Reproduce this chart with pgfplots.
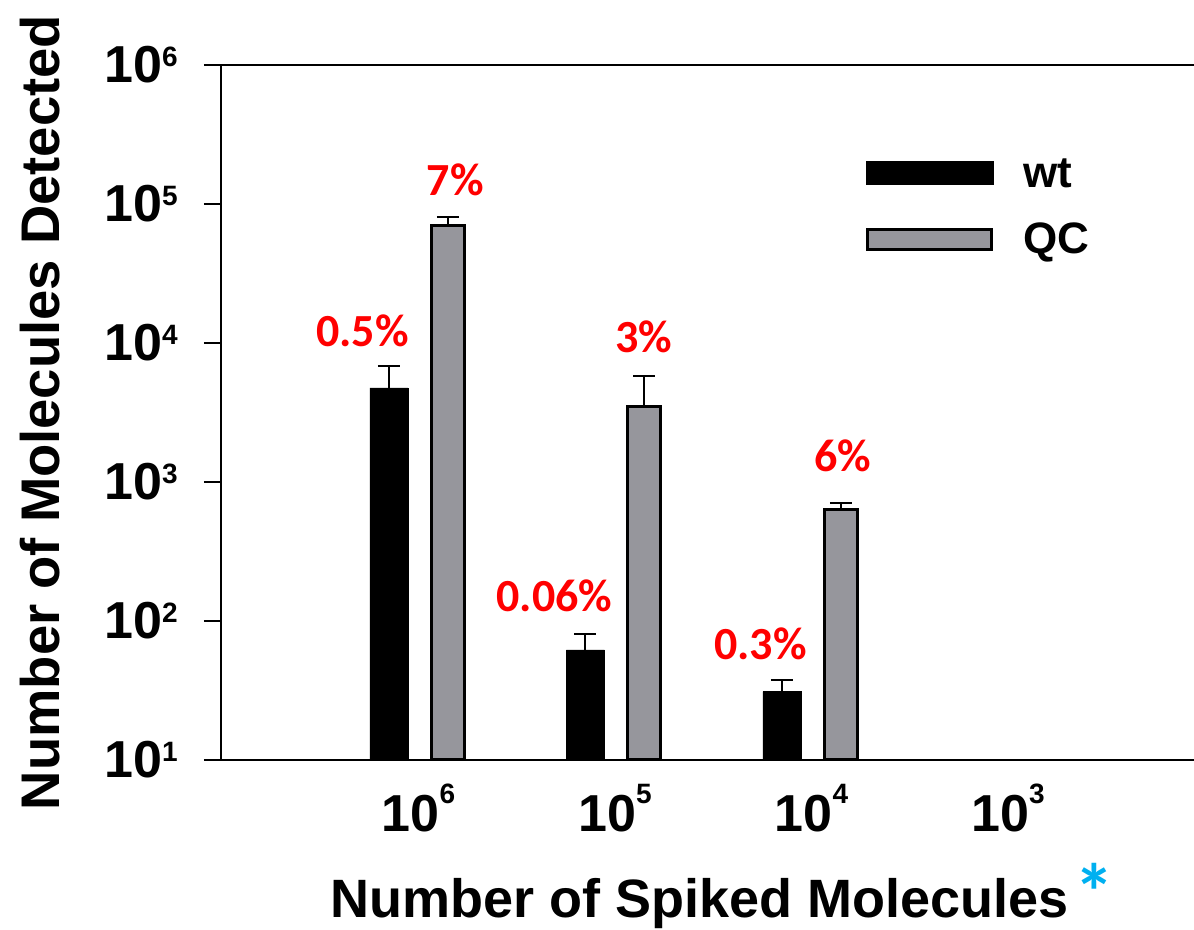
\documentclass[border=0pt]{standalone}
\usepackage{pgfplots}
\pgfplotsset{compat=1.18}
\usepackage{pgfplotstable}
\usepackage{fontspec}
\setmainfont{Liberation Sans}
\newfontfamily\carlito{Carlito}
\definecolor{qcgray}{RGB}{150,150,156}
\definecolor{pctred}{RGB}{255,0,0}
\definecolor{starcyan}{RGB}{0,176,240}
\newcommand{\ysup}[1]{\raisebox{8pt}{\fontsize{14}{14}\selectfont #1}}
\newcommand{\xsup}[1]{\raisebox{14pt}{\fontsize{14}{14}\selectfont #1}}
\tikzset{pct/.style={font=\carlito\bfseries\fontsize{23}{23}\selectfont, text=pctred, inner sep=0pt}}

% x positions: category index -/+ 0.15 (bar offset within the group)
\pgfplotstableread{
x y err
-0.15 4745 2089
0.85 61.9 18.7
1.85 31.0 6.6
}\wtdata
\pgfplotstableread{
x y err
0.15 70600 9600
1.15 3520 2270
2.15 639 67
}\qcdata

\begin{document}
\begin{tikzpicture}
\begin{axis}[
  at={(0,0)}, anchor=south west,
  scale only axis, width=486.5pt, height=347.5pt,
  ymode=log, ymin=10, ymax=1e6, log origin=infty,
  xmin=-1.005, xmax=3.947,
  axis x line*=box, axis y line*=left,
  axis line style={line width=1.3pt},
  tick align=outside, major tick length=8.5pt,
  yminorticks=false,
  ytick={10,100,1000,10000,100000,1000000},
  yticklabels={10\ysup{1},10\ysup{2},10\ysup{3},10\ysup{4},10\ysup{5},10\ysup{6}},
  xtick={0,1,2,3},
  xticklabels={10\xsup{6},10\xsup{5},10\xsup{4},10\xsup{3}},
  xtick style={draw=none},
  ytick style={line width=1.3pt, black},
  yticklabel style={font=\fontsize{26}{26}\selectfont\bfseries, anchor=east, inner sep=0pt, xshift=-13pt},
  xticklabel style={font=\fontsize{26}{26}\selectfont\bfseries, anchor=base, inner sep=0pt, yshift=-27.5pt},
  ylabel={Number of Molecules Detected},
  ylabel style={at={(axis description cs:-0.1655,0.5)}, anchor=base, font=\fontsize{27.2}{27.2}\selectfont\bfseries},
  xlabel={Number of Spiked Molecules\hspace{3pt}{\carlito\bfseries\fontsize{40}{40}\selectfont\textcolor{starcyan}{\raisebox{-1.5pt}{*}}}},
  xlabel style={at={(axis description cs:0.112,-0.2273)}, anchor=base west, inner sep=0pt, font=\fontsize{27}{27}\selectfont\bfseries},
  legend style={at={(rel axis cs:0.662,0.871)}, anchor=north west, draw=none, fill=none,
    inner sep=0pt, row sep=17.25pt, column sep=15pt,
    font=\fontsize{22}{22}\selectfont\bfseries,
    nodes={inner sep=0pt, text height=16pt, text depth=0pt}},
  legend cell align=left,
]
\addplot[ybar, bar width=19pt, fill=black, draw=black, line width=0.4pt,
  legend image code/.code={\fill[black] (0pt,-6.8pt) rectangle (63.5pt,4.7pt);},
  error bars/.cd, y dir=plus, y explicit,
  error bar style={line width=1pt, draw=black},
  error mark options={rotate=90, mark size=5.5pt, line width=1pt, draw=black}]
  table[x=x, y=y, y error=err] {\wtdata};
\addlegendentry{wt}
\addplot[ybar, bar width=16.5pt, fill=qcgray, draw=black, line width=1.5pt,
  legend image code/.code={\filldraw[fill=qcgray, draw=black, line width=1.5pt] (0.75pt,-6.05pt) rectangle (62.75pt,3.95pt);},
  error bars/.cd, y dir=plus, y explicit,
  error bar style={line width=1pt, draw=black},
  error mark options={rotate=90, mark size=5.5pt, line width=1pt, draw=black}]
  table[x=x, y=y, y error=err] {\qcdata};
\addlegendentry{QC}
\node[pct] at (axis cs:-0.285,12200) {0.5\%};
\node[pct] at (axis cs:0.188,148900) {7\%};
\node[pct] at (axis cs:0.692,151) {0.06\%};
\node[pct] at (axis cs:1.145,11050) {3\%};
\node[pct] at (axis cs:1.740,68.3) {0.3\%};
\node[pct] at (axis cs:2.158,1538) {6\%};
\end{axis}
\pgfresetboundingbox
\path[use as bounding box] (-110.5pt,-85pt) rectangle (486.5pt,380pt);
\end{tikzpicture}
\end{document}
